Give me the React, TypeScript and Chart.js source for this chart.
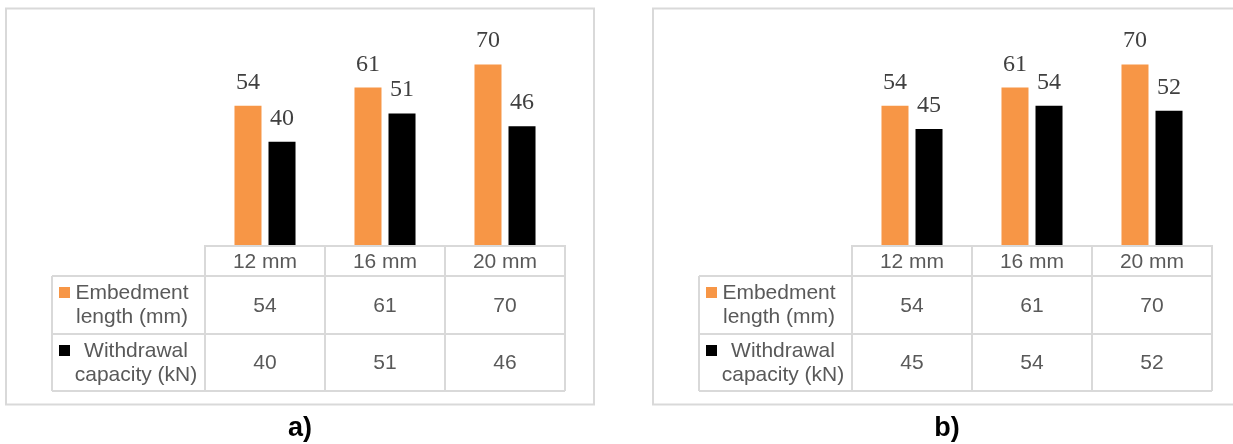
import React, { useEffect, useRef } from "react";
import { Chart, registerables } from "chart.js";

Chart.register(...registerables);

// Shared categories and series
const categories = ["12 mm", "16 mm", "20 mm"];
const seriesLabels = [
  ["Embedment", "length (mm)"],
  ["Withdrawal", "capacity (kN)"],
];
const seriesColors = ["#F79646", "#000000"];

// Panel a)
const embedmentA = [54, 61, 70];
const withdrawalA = [40, 51, 46];

// Panel b)
const embedmentB = [54, 61, 70];
const withdrawalB = [45, 54, 52];

const captions = ["a)", "b)"];

const W = 1233;
const H = 444;

const SANS = '"Liberation Sans", Arial, sans-serif';
const SERIF = '"Liberation Serif", "Times New Roman", serif';
const GRID = "#d9d9d9";
const TEXT = "#595959";

type PanelProps = {
  shift: number;
  caption: string;
  embedment: number[];
  withdrawal: number[];
};

function Panel({ shift, caption, embedment, withdrawal }: PanelProps) {
  const ref = useRef<HTMLCanvasElement>(null);

  useEffect(() => {
    const canvas = ref.current;
    if (!canvas) return;

    const tablePlugin = {
      id: "dataTable",
      beforeDraw(chart: any) {
        const ctx = chart.ctx;
        ctx.save();
        ctx.strokeStyle = GRID;
        ctx.lineWidth = 2;
        ctx.strokeRect(6 + shift, 8.5, 588, 396);
        ctx.restore();
      },
      afterDraw(chart: any) {
        const ctx = chart.ctx;
        const area = chart.chartArea;
        const xs = chart.scales.x;
        const n = categories.length;
        const colW = (area.right - area.left) / n;
        const labelLeft = area.left - 153;
        const headTop = area.bottom;
        const rowTops = [headTop + 31, headTop + 89];
        const tableBottom = headTop + 146;

        ctx.save();
        ctx.strokeStyle = GRID;
        ctx.lineWidth = 2;
        ctx.beginPath();
        // horizontal rules
        ctx.moveTo(area.left, headTop + 1);
        ctx.lineTo(area.right, headTop + 1);
        [rowTops[0], rowTops[1], tableBottom].forEach((y) => {
          ctx.moveTo(labelLeft, y);
          ctx.lineTo(area.right, y);
        });
        // vertical rules
        ctx.moveTo(labelLeft, rowTops[0]);
        ctx.lineTo(labelLeft, tableBottom);
        for (let i = 0; i <= n; i++) {
          const x = area.left + i * colW;
          ctx.moveTo(x, headTop);
          ctx.lineTo(x, tableBottom);
        }
        ctx.stroke();

        // header and values
        ctx.fillStyle = TEXT;
        ctx.font = `21px ${SANS}`;
        ctx.textAlign = "center";
        ctx.textBaseline = "middle";
        const rowsData = [embedment, withdrawal];
        categories.forEach((c, i) => {
          const cx = xs.getPixelForValue(i);
          ctx.fillText(c, cx, headTop + 17);
          rowsData.forEach((vals, r) => {
            const top = rowTops[r];
            const bottom = r === 0 ? rowTops[1] : tableBottom;
            ctx.fillText(String(vals[i]), cx, (top + bottom) / 2 + 1);
          });
        });

        // row headers with legend keys
        const labelCenters = [80, 84];
        seriesLabels.forEach((lines, r) => {
          const top = rowTops[r];
          ctx.fillStyle = seriesColors[r];
          ctx.fillRect(labelLeft + 7, top + 11, 11, 11);
          ctx.fillStyle = TEXT;
          ctx.fillText(lines[0], labelLeft + labelCenters[r], top + 17);
          ctx.fillText(lines[1], labelLeft + labelCenters[r], top + 41);
        });

        // value labels above bars
        ctx.fillStyle = "#404040";
        ctx.font = `24px ${SERIF}`;
        ctx.textBaseline = "alphabetic";
        chart.data.datasets.forEach((ds: any, d: number) => {
          const meta = chart.getDatasetMeta(d);
          meta.data.forEach((el: any, i: number) => {
            ctx.fillText(String(ds.data[i]), el.x, el.y - 17);
          });
        });

        // caption
        ctx.fillStyle = "#000000";
        ctx.font = `bold 27px ${SANS}`;
        ctx.textBaseline = "middle";
        ctx.fillText(caption, 300 + shift, 429);
        ctx.restore();
      },
    };

    const chart = new Chart(canvas, {
      type: "bar",
      data: {
        labels: categories,
        datasets: [
          {
            label: seriesLabels[0].join(" "),
            data: embedment,
            backgroundColor: seriesColors[0],
          },
          {
            label: seriesLabels[1].join(" "),
            data: withdrawal,
            backgroundColor: seriesColors[1],
          },
        ],
      },
      options: {
        animation: false,
        responsive: false,
        devicePixelRatio: 1,
        layout: {
          padding: {
            left: 205 + shift,
            right: W - (565 + shift),
            top: 38.6,
            bottom: H - 245,
          },
        },
        datasets: {
          bar: { categoryPercentage: 0.567, barPercentage: 0.794 },
        },
        scales: {
          x: { display: false, offset: true },
          y: { display: false, min: 0, max: 80 },
        },
        plugins: {
          legend: { display: false },
          tooltip: { enabled: false },
        },
      },
      plugins: [tablePlugin],
    });

    return () => chart.destroy();
  }, [shift, caption, embedment, withdrawal]);

  return (
    <canvas
      ref={ref}
      width={W}
      height={H}
      style={{ position: "absolute", left: 0, top: 0, width: W, height: H }}
    />
  );
}

export default function App() {
  return (
    <div
      style={{
        position: "fixed",
        left: 0,
        top: 0,
        width: W,
        height: H,
        background: "#ffffff",
      }}
    >
      <Panel shift={0} caption={captions[0]} embedment={embedmentA} withdrawal={withdrawalA} />
      <Panel shift={647} caption={captions[1]} embedment={embedmentB} withdrawal={withdrawalB} />
    </div>
  );
}
